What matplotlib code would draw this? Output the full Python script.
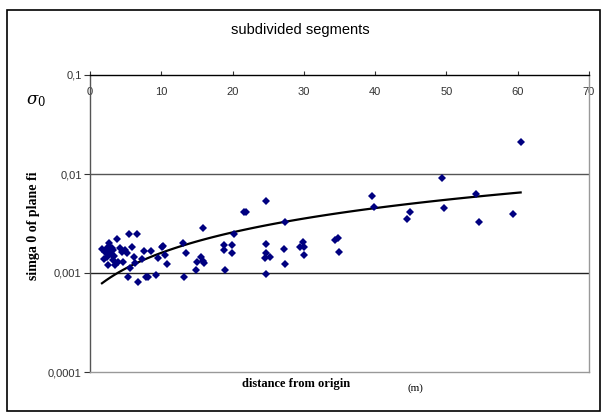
import numpy as np
import matplotlib
matplotlib.use('Agg')
import matplotlib.pyplot as plt
from matplotlib.patches import Rectangle

# distance from origin (m) and sigma0 values
dist = [1.96, 2.34, 2.57, 2.81, 3.04, 3.27, 3.18, 2.57, 3.74, 3.51,
        4.21, 4.45, 4.67, 4.91, 5.15, 3.97, 5.51, 6.55, 5.85, 6.17,
        6.31, 5.61, 5.37, 6.77, 7.25, 7.62, 8.56, 7.81, 8.09, 9.26,
        9.58, 10.06, 10.28, 10.52, 10.84, 13.09, 13.46, 13.18, 14.82, 14.96,
        15.53, 15.89, 15.99, 15.89, 18.84, 18.84, 19.87, 19.87, 18.93, 20.24,
        21.64, 21.84, 24.64, 24.64, 24.64, 24.54, 25.25, 24.64, 27.35, 27.25,
        27.35, 29.45, 29.92, 30.01, 30.01, 34.36, 34.82, 34.96, 39.51, 39.83,
        44.50, 44.88, 49.65, 49.33, 54.21, 54.60, 59.28, 60.41,
        2.10, 2.38, 2.81, 3.09, 3.37, 2.66, 1.68]
sigma0 = [0.001394, 0.001776, 0.001641, 0.001843, 0.001520, 0.001707, 0.001353, 0.001204, 0.002205, 0.001204,
          0.001776, 0.001641, 0.001301, 0.001707, 0.001581, 0.001301, 0.002477, 0.002477, 0.001843, 0.001461,
          0.001253, 0.001116, 0.000905, 0.000806, 0.001375, 0.001680, 0.001680, 0.000918, 0.000905, 0.000961,
          0.001408, 0.001843, 0.001886, 0.001520, 0.001224, 0.001995, 0.001581, 0.000905, 0.001072, 0.001301,
          0.001441, 0.001331, 0.001253, 0.002828, 0.001918, 0.001707, 0.001918, 0.001603, 0.001072, 0.002477,
          0.004160, 0.004102, 0.005374, 0.001963, 0.001581, 0.001408, 0.001461, 0.000970, 0.003252, 0.001747,
          0.001224, 0.001843, 0.002071, 0.001843, 0.001520, 0.002154, 0.002241, 0.001641, 0.005953, 0.004642,
          0.003487, 0.004180, 0.004503, 0.009176, 0.006235, 0.003252, 0.003917, 0.020900,
          0.001630, 0.001451, 0.001630, 0.001788, 0.001485, 0.002009, 0.001747]

y_ticks = [0.0001, 0.001, 0.01, 0.1]
y_ticklabels = ['0,0001', '0,001', '0,01', '0,1']
x_ticks = [0, 10, 20, 30, 40, 50, 60, 70]

dist = np.array(dist)
sigma0 = np.array(sigma0)

# linear trendline (as in the spreadsheet), drawn on the log axis
coef = np.polyfit(dist, sigma0, 1)
xs = np.linspace(dist.min(), dist.max(), 100)
trend = np.polyval(coef, xs)

fig = plt.figure(figsize=(6.02, 4.12), dpi=100)
fig.patches.append(Rectangle((7/602, 1/412), 593/602, 401/412, transform=fig.transFigure,
                             fill=False, edgecolor='black', lw=1.2))

ax = fig.add_axes([90/602, 1 - 372/412, 499/602, 297/412])
ax.set_yscale('log')
ax.set_xlim(0, 70)
ax.set_ylim(0.0001, 0.1)

ax.axhline(0.01, color='#555555', lw=1, zorder=1)
ax.axhline(0.001, color='#222222', lw=1, zorder=1)

ax.plot(xs, trend, color='black', lw=1.6, zorder=2)
ax.plot(dist, sigma0, 'D', color='#000080', markersize=4.1, markeredgewidth=0, zorder=3)

ax.set_yticks(y_ticks)
ax.set_yticklabels(y_ticklabels)
ax.yaxis.set_minor_locator(matplotlib.ticker.NullLocator())
ax.tick_params(axis='y', direction='out', length=4, width=0.8, colors='#333333',
               labelsize=8, pad=2)

ax.set_xticks(x_ticks)
ax.xaxis.tick_top()
ax.tick_params(axis='x', direction='out', length=3, width=0.8, colors='#333333',
               labelsize=8, pad=-19)

ax.spines['top'].set_color('black')
ax.spines['left'].set_color('#555555')
ax.spines['right'].set_color('#999999')
ax.spines['bottom'].set_color('#999999')
for s in ax.spines.values():
    s.set_linewidth(1)

for lbl in ax.get_xticklabels() + ax.get_yticklabels():
    lbl.set_family('Liberation Sans')

fig.text(300/602, 1 - 30/412, 'subdivided segments', ha='center', va='center',
         fontsize=10.5, family='Liberation Sans')
fig.text(296/602, 1 - 384/412, 'distance from origin', ha='center', va='center',
         fontsize=9, family='Liberation Serif', fontweight='bold')
fig.text(415/602, 1 - 388/412, '(m)', ha='center', va='center',
         fontsize=8, family='Liberation Serif')
fig.text(34/602, 1 - 226/412, 'simga 0 of plane fi', ha='center', va='center',
         rotation=90, fontsize=10, family='Liberation Serif', fontweight='bold')
fig.text(36/602, 1 - 100/412, r'$\sigma_0$', ha='center', va='center', fontsize=12,
         math_fontfamily='dejavuserif')

fig.savefig('out.png', dpi=100)
